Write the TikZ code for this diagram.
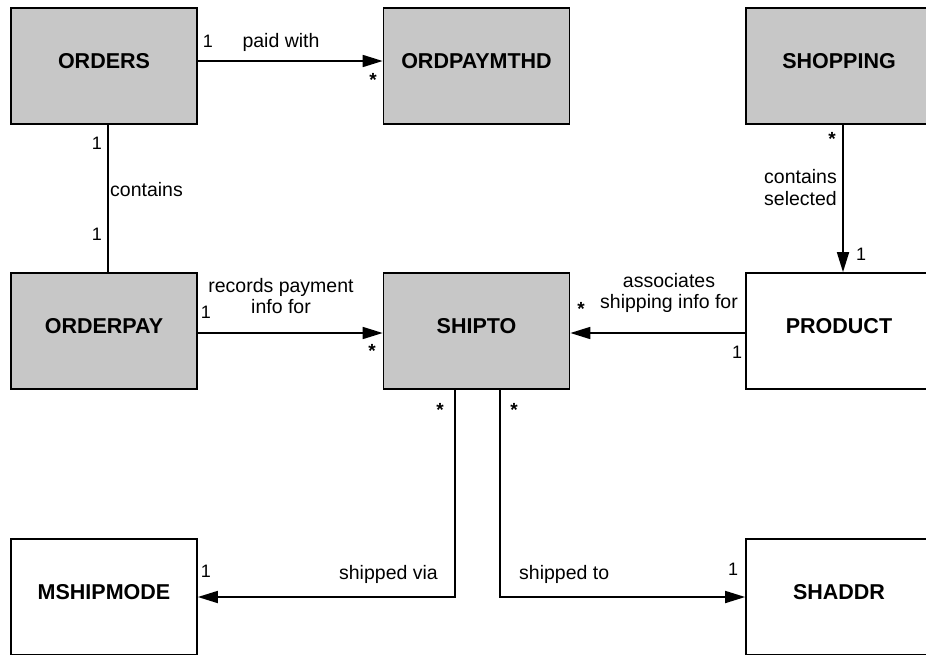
\documentclass[tikz,border=0pt]{standalone}
\usepackage{fontspec}
\setmainfont{Liberation Sans}
\usetikzlibrary{arrows.meta}
\begin{document}
\begin{tikzpicture}[x=1pt,y=-1pt,
  entity/.style={draw, line width=1.7pt, minimum width=186pt, minimum height=116pt,
    inner sep=0pt, text depth=10pt, font=\fontsize{21.5}{24}\selectfont\bfseries},
  shaded/.style={entity, fill=black!22},
  link/.style={line width=1.7pt},
  assoc/.style={link, -{Triangle[length=20pt,width=12pt]}},
  lbl/.style={font=\fontsize{19.5}{21}\selectfont, inner sep=0pt, anchor=base},
  mult/.style={font=\fontsize{18}{20}\selectfont, inner sep=0pt, anchor=base},
  star/.style={font=\fontsize{19}{20}\selectfont\bfseries, inner sep=0pt},
]
\useasboundingbox (0,0) rectangle (926,654);
\clip (0,0) rectangle (926,654);

% entities
\node[shaded] (orders)     at (104,66)    {ORDERS};
\node[shaded] (ordpaymthd) at (476.5,66)  {ORDPAYMTHD};
\node[shaded] (shopping)   at (839,66)    {SHOPPING};
\node[shaded] (orderpay)   at (104,331)   {ORDERPAY};
\node[shaded] (shipto)     at (476.5,331) {SHIPTO};
\node[entity] (product)    at (839,331)   {PRODUCT};
\node[entity] (mshipmode)  at (104,597)   {MSHIPMODE};
\node[entity] (shaddr)     at (839,597)   {SHADDR};

% associations
\draw[assoc] ([yshift=5pt]orders.east) -- ([yshift=5pt]ordpaymthd.west);
\draw[link]  ([xshift=4pt]orders.south) -- ([xshift=4pt]orderpay.north);
\draw[assoc] ([xshift=4pt]shopping.south) -- ([xshift=4pt]product.north);
\draw[assoc] ([yshift=-2pt]orderpay.east) -- ([yshift=-2pt]shipto.west);
\draw[assoc] ([yshift=-2pt]product.west) -- ([yshift=-2pt]shipto.east);
\draw[assoc] ([xshift=-21.5pt]shipto.south) |- (mshipmode.east);
\draw[assoc] ([xshift=23.5pt]shipto.south) |- (shaddr.west);

% role names
\node[lbl] (t1) at (281,47) {paid with};
\node[lbl, anchor=base west] (t2) at (110,196) {contains};
\node[lbl, anchor=base east] (t3a) at (837,183) {contains};
\node[lbl, anchor=base east] (t3b) at (837,205) {selected};
\node[lbl] (t4a) at (281,292) {records payment};
\node[lbl] (t4b) at (281,313) {info for};
\node[lbl] (t5a) at (669,287) {associates};
\node[lbl] (t5b) at (669,308) {shipping info for};
\node[lbl, anchor=base east] (t6) at (438,579) {shipped via};
\node[lbl, anchor=base west] (t7) at (519,579) {shipped to};

% multiplicities
\node[mult] (m1)  at (208,47)  {1};
\node[star] (m2)  at (373,80)  {*};
\node[mult] (m3)  at (97,149)  {1};
\node[mult] (m4)  at (97,240)  {1};
\node[star] (m5)  at (832,139) {*};
\node[mult] (m6)  at (861,260) {1};
\node[mult] (m7)  at (206,318) {1};
\node[star] (m8)  at (372,351) {*};
\node[star] (m9)  at (581,309) {*};
\node[mult] (m10) at (737,358) {1};
\node[star] (m11) at (440,410) {*};
\node[star] (m12) at (514,410) {*};
\node[mult] (m13) at (206,577) {1};
\node[mult] (m14) at (733,575) {1};
\end{tikzpicture}
\end{document}
